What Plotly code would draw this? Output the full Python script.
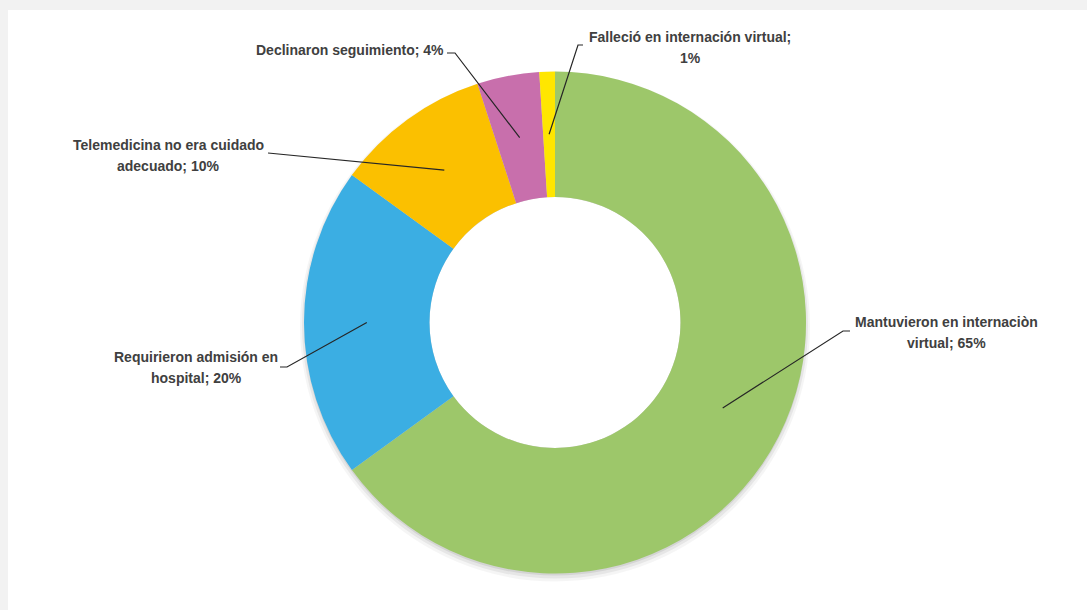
import math
import plotly.graph_objects as go

# ---- data ----
categories = [
    "Mantuvieron en internaciòn virtual",
    "Requirieron admisión en hospital",
    "Telemedicina no era cuidado adecuado",
    "Declinaron seguimiento",
    "Falleció en internación virtual",
]
values = [65, 20, 10, 4, 1]
colors = ["#9DC76A", "#3BAEE3", "#FBC000", "#C86FAC", "#FFE600"]
label_lines = [
    ["Mantuvieron en internaciòn", "virtual; 65%"],
    ["Requirieron admisión en", "hospital; 20%"],
    ["Telemedicina no era cuidado", "adecuado; 10%"],
    ["Declinaron seguimiento; 4%"],
    ["Falleció en internación virtual;", "1%"],
]

# ---- layout (pixels) ----
W, H = 1087, 610
CX, CY, R = 555, 322.5, 251
HOLE = 0.5
# label centre (x, first-line y) and leader elbow points (label side)
label_pos = [(946, 322), (196, 357), (168, 145), (350, 50), (690, 37)]
elbows = [
    [(850, 331), (843, 331)],
    [(280, 367), (287, 367)],
    [(268, 153)],
    [(447, 53), (455, 53)],
    [(583, 45), (578, 45)],
]
LINE_GAP = 21
FONT = "Liberation Sans, Arial, sans-serif"
TXT = "#404040"

fig = go.Figure()

# background card
fig.add_shape(type="rect", xref="x", yref="y", x0=0, x1=W, y0=0, y1=H,
              fillcolor="#f2f2f2", line_width=0, layer="below")
fig.add_shape(type="rect", xref="x", yref="y", x0=8, x1=W, y0=10, y1=H,
              fillcolor="white", line_width=0, layer="below")
# soft shadow under the ring
for dr, dy, a in [(4, 4, 0.04), (2, 3, 0.06), (0, 2, 0.08)]:
    fig.add_shape(type="circle", xref="x", yref="y",
                  x0=CX - R - dr, x1=CX + R + dr, y0=CY - R - dr + dy, y1=CY + R + dr + dy,
                  fillcolor=f"rgba(0,0,0,{a})", line_width=0, layer="below")
rh = R * HOLE
fig.add_shape(type="circle", xref="x", yref="y",
              x0=CX - rh, x1=CX + rh, y0=CY - rh, y1=CY + rh,
              fillcolor="white", line_width=0, layer="below")

fig.add_trace(go.Pie(
    labels=categories, values=values, hole=HOLE, sort=False,
    direction="clockwise", rotation=0,
    marker=dict(colors=colors, line=dict(width=0)),
    textinfo="none", hoverinfo="label+percent", showlegend=False,
    domain=dict(x=[(CX - R) / W, (CX + R) / W],
                y=[(H - CY - R) / H, (H - CY + R) / H]),
))

# leader lines from each slice's mid-angle (mid-ring) to its label
total = sum(values)
cum = 0
rmid = R * (1 + HOLE) / 2
for i, v in enumerate(values):
    mid = (cum + v / 2) / total * 2 * math.pi
    cum += v
    px = CX + rmid * math.sin(mid)
    py = CY - rmid * math.cos(mid)
    pts = elbows[i] + [(px, py)]
    path = "M " + " L ".join(f"{x:.1f},{y:.1f}" for x, y in pts)
    fig.add_shape(type="path", xref="x", yref="y", path=path,
                  line=dict(color="#262626", width=1.2), layer="above")
    lx, ly = label_pos[i]
    for k, line in enumerate(label_lines[i]):
        fig.add_annotation(x=lx, y=ly + k * LINE_GAP, xref="x", yref="y",
                           text=f"<b>{line}</b>", showarrow=False,
                           font=dict(family=FONT, size=14, color=TXT),
                           xanchor="center", yanchor="middle")

fig.update_layout(
    width=W, height=H, margin=dict(l=0, r=0, t=0, b=0),
    paper_bgcolor="white", plot_bgcolor="rgba(0,0,0,0)",
    xaxis=dict(range=[0, W], visible=False, fixedrange=True),
    yaxis=dict(range=[H, 0], visible=False, fixedrange=True),
)

fig.write_html("out.html")
